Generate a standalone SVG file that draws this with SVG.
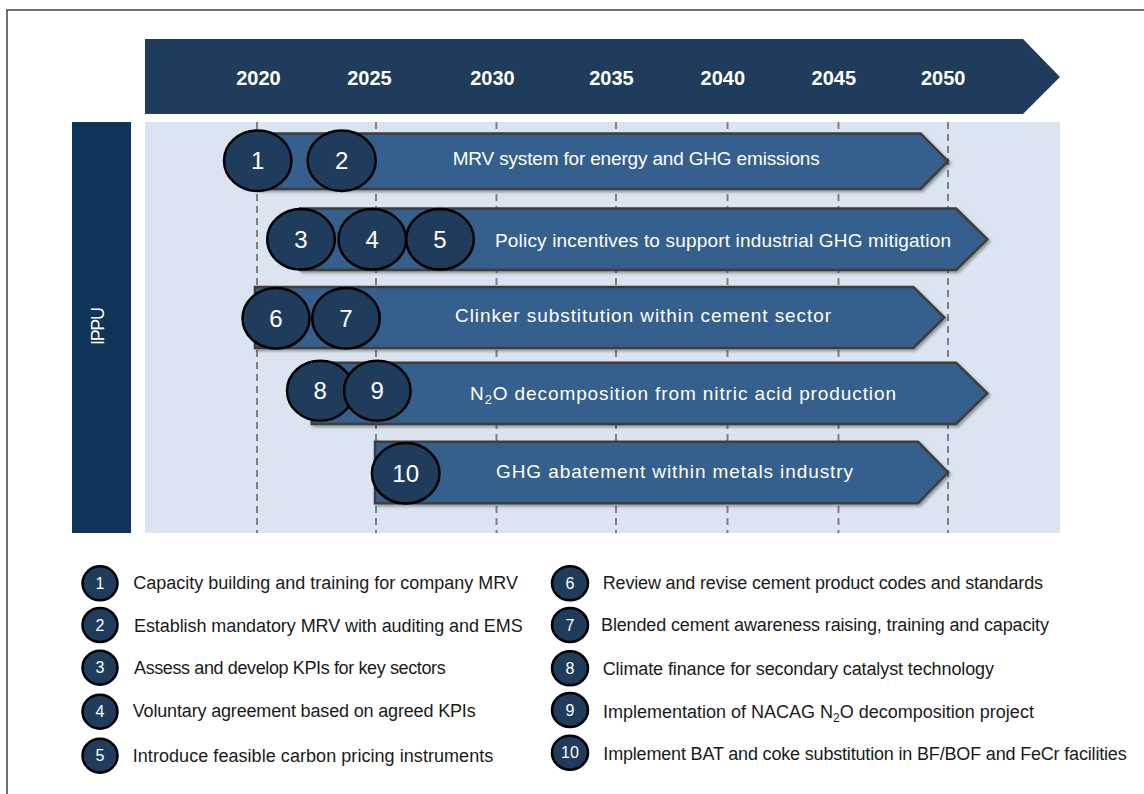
<svg xmlns="http://www.w3.org/2000/svg" width="1144" height="794" viewBox="0 0 1144 794">
<style>
.frame{fill:#ffffff;stroke:#404040;stroke-width:1.5}
.hdr{fill:#1f3c5c}
.panel{fill:#dbe5f1}
.side{fill:#11355a}
.yr{font-family:"Liberation Sans",Arial,sans-serif;font-weight:bold;font-size:20px;fill:#ffffff;text-anchor:middle}
.grid{stroke:#808080;stroke-width:2;stroke-dasharray:7 5;fill:none}
.bar{fill:#365e8c;stroke:#3c3c3c;stroke-width:2.5;stroke-linejoin:miter}
.bt{font-family:"Liberation Sans",Arial,sans-serif;font-size:19px;fill:#ffffff}
.c{fill:#1f3c5d;stroke:#000000;stroke-width:2.5}
.cn{font-family:"Liberation Sans",Arial,sans-serif;font-size:24px;fill:#ffffff;text-anchor:middle}
.lc{fill:#1f3c5d;stroke:#000000;stroke-width:2.5}
.ln{font-family:"Liberation Sans",Arial,sans-serif;font-size:16px;fill:#ffffff;text-anchor:middle}
.lt{font-family:"Liberation Sans",Arial,sans-serif;font-size:18px;fill:#1a1a1a}
.side-t{font-family:"Liberation Sans",Arial,sans-serif;font-size:18px;fill:#ffffff;text-anchor:middle}
</style>
<defs>
<filter id="sh" x="-5%" y="-20%" width="110%" height="150%">
<feDropShadow dx="2" dy="2" stdDeviation="1.5" flood-color="#000000" flood-opacity="0.35"/>
</filter>
</defs>
<rect class="frame" x="7" y="10" width="1200" height="900"/>
<g id="timeline-header">
<path class="hdr" d="M145,39 H1023 L1060,77 L1023,114 H145 Z"/>
<text class="yr" x="258.5" y="85">2020</text>
<text class="yr" x="369.5" y="85">2025</text>
<text class="yr" x="492.5" y="85">2030</text>
<text class="yr" x="611.5" y="85">2035</text>
<text class="yr" x="722.8" y="85">2040</text>
<text class="yr" x="833.8" y="85">2045</text>
<text class="yr" x="943.2" y="85">2050</text>
</g>
<rect class="panel" x="145" y="122" width="915" height="411"/>
<g id="ippu">
<rect class="side" x="72" y="122" width="59" height="411"/>
<text class="side-t" transform="translate(104,326) rotate(-90)" textLength="38">IPPU</text>
</g>
<g id="connectors">
<line class="grid" x1="257" y1="122" x2="257" y2="533"/>
<line class="grid" x1="376" y1="122" x2="376" y2="533"/>
<line class="grid" x1="496.5" y1="122" x2="496.5" y2="533"/>
<line class="grid" x1="616" y1="122" x2="616" y2="533"/>
<line class="grid" x1="727.5" y1="122" x2="727.5" y2="533"/>
<line class="grid" x1="838.5" y1="122" x2="838.5" y2="533"/>
<line class="grid" x1="948" y1="122" x2="948" y2="533"/>
</g>
<g id="bar1">
<path class="bar" filter="url(#sh)" d="M258,133.5 H920.5 L948,161.2 L920.5,189 H258 Z"/>
<text class="bt" x="452.7" y="165" textLength="367">MRV system for energy and GHG emissions</text>
<ellipse class="c" cx="257.7" cy="160.7" rx="33.7" ry="30.3"/>
<text class="cn" x="257.7" y="169">1</text>
<ellipse class="c" cx="341.7" cy="160.7" rx="34" ry="30.3"/>
<text class="cn" x="341.7" y="169">2</text>
</g>
<g id="bar2">
<path class="bar" filter="url(#sh)" d="M300,208.5 H956 L987.3,239.3 L956,270 H300 Z"/>
<text class="bt" x="495" y="247.3" textLength="456">Policy incentives to support industrial GHG mitigation</text>
<ellipse class="c" cx="301" cy="239.3" rx="33.8" ry="30.3"/>
<text class="cn" x="301" y="247.8">3</text>
<ellipse class="c" cx="372.3" cy="239.3" rx="33.8" ry="30.3"/>
<text class="cn" x="372.3" y="247.8">4</text>
<ellipse class="c" cx="440" cy="239.3" rx="33.8" ry="30.3"/>
<text class="cn" x="440" y="247.8">5</text>
</g>
<g id="bar3">
<path class="bar" filter="url(#sh)" d="M255,287 H913.3 L944.3,317.5 L913.3,348 H255 Z"/>
<text class="bt" x="455" y="321.7" textLength="376">Clinker substitution within cement sector</text>
<ellipse class="c" cx="276" cy="318.3" rx="33.5" ry="30.3"/>
<text class="cn" x="276" y="326.8">6</text>
<ellipse class="c" cx="346" cy="318.3" rx="33.8" ry="30.3"/>
<text class="cn" x="346" y="326.8">7</text>
</g>
<g id="bar4">
<path class="bar" filter="url(#sh)" d="M311.7,362.7 H956 L987.3,393.3 L956,424 H311.7 Z"/>
<text class="bt" x="470" y="400" textLength="426">N<tspan dy="4" font-size="13">2</tspan><tspan dy="-4">O decomposition from nitric acid production</tspan></text>
<ellipse class="c" cx="320.3" cy="390.7" rx="33.3" ry="30"/>
<text class="cn" x="320.3" y="399.2">8</text>
<ellipse class="c" cx="377.3" cy="390.7" rx="33.3" ry="30"/>
<text class="cn" x="377.3" y="399.2">9</text>
</g>
<g id="bar5">
<path class="bar" filter="url(#sh)" d="M375,441.7 H918 L948,472.5 L918,503.3 H375 Z"/>
<text class="bt" x="496" y="478.3" textLength="357">GHG abatement within metals industry</text>
<ellipse class="c" cx="405.7" cy="473.3" rx="33.8" ry="30.3"/>
<text class="cn" x="405.7" y="481.8">10</text>
</g>
<g id="legend-1">
<ellipse class="lc" cx="100" cy="583.3" rx="17.5" ry="17"/>
<text class="ln" x="100" y="589">1</text>
<text class="lt" x="133.3" y="589.3" textLength="384.7">Capacity building and training for company MRV</text>
</g>
<g id="legend-2">
<ellipse class="lc" cx="100" cy="625" rx="17.5" ry="17"/>
<text class="ln" x="100" y="630.7">2</text>
<text class="lt" x="134" y="631.5" textLength="388.7">Establish mandatory MRV with auditing and EMS</text>
</g>
<g id="legend-3">
<ellipse class="lc" cx="100" cy="667.7" rx="17.5" ry="17"/>
<text class="ln" x="100" y="673.4">3</text>
<text class="lt" x="134" y="674" textLength="311.7">Assess and develop KPIs for key sectors</text>
</g>
<g id="legend-4">
<ellipse class="lc" cx="100" cy="711.7" rx="17.5" ry="17"/>
<text class="ln" x="100" y="717.4">4</text>
<text class="lt" x="132.7" y="716.7" textLength="343">Voluntary agreement based on agreed KPIs</text>
</g>
<g id="legend-5">
<ellipse class="lc" cx="100" cy="755.7" rx="17.5" ry="17"/>
<text class="ln" x="100" y="761.4">5</text>
<text class="lt" x="132.7" y="761.5" textLength="360.6">Introduce feasible carbon pricing instruments</text>
</g>
<g id="legend-6">
<ellipse class="lc" cx="570" cy="583.3" rx="18" ry="17"/>
<text class="ln" x="570" y="589">6</text>
<text class="lt" x="602.7" y="588.5" textLength="440.3">Review and revise cement product codes and standards</text>
</g>
<g id="legend-7">
<ellipse class="lc" cx="570" cy="625" rx="18" ry="17"/>
<text class="ln" x="570" y="630.7">7</text>
<text class="lt" x="601" y="631" textLength="448">Blended cement awareness raising, training and capacity</text>
</g>
<g id="legend-8">
<ellipse class="lc" cx="570" cy="668.3" rx="18" ry="17"/>
<text class="ln" x="570" y="674">8</text>
<text class="lt" x="602.7" y="675" textLength="391.3">Climate finance for secondary catalyst technology</text>
</g>
<g id="legend-9">
<ellipse class="lc" cx="570" cy="710" rx="18" ry="17"/>
<text class="ln" x="570" y="715.7">9</text>
<text class="lt" x="603" y="718">Implementation of NACAG N<tspan dy="4" font-size="12">2</tspan><tspan dy="-4">O decomposition project</tspan></text>
</g>
<g id="legend-10">
<ellipse class="lc" cx="570" cy="752.7" rx="18" ry="17"/>
<text class="ln" x="570" y="758.4">10</text>
<text class="lt" x="603.3" y="760" textLength="523.4">Implement BAT and coke substitution in BF/BOF and FeCr facilities</text>
</g>
</svg>
